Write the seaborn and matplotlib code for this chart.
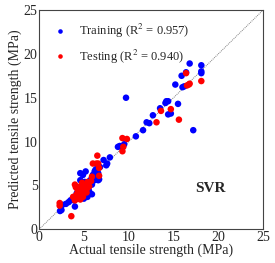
import numpy as np
import pandas as pd
import matplotlib
matplotlib.use("Agg")
import matplotlib.pyplot as plt
import seaborn as sns

# training set: actual vs predicted (MPa)
train_actual = [2.34, 2.5, 2.45, 2.6, 3.3, 3.5, 4.0, 4.0, 4.6, 4.6, 4.9, 5.0, 4.9, 5.4,
                5.7, 6.1, 6.2, 6.6, 6.6, 6.8, 7.2, 7.5, 7.6, 7.9, 8.8, 9.0, 9.5, 9.7,
                10.8, 11.6, 12.0, 12.3, 12.7, 13.5, 14.1, 14.2, 14.4, 14.4, 14.7, 15.5,
                15.2, 15.9, 16.0, 16.2, 16.4, 16.8, 18.1, 18.1, 18.1, 17.2,
                3.75, 4.2, 4.8, 5.1, 5.4, 5.6, 5.9, 6.2, 6.4, 6.5, 5.2, 5.9,
                3.0, 3.9, 4.4, 5.5, 6.0, 6.7, 6.3]
train_pred = [2.09, 2.2, 2.6, 2.8, 3.1, 3.3, 3.7, 2.6, 5.6, 6.4, 6.2, 3.5, 4.9, 4.5,
              5.6, 6.0, 6.6, 6.4, 5.6, 7.1, 7.9, 7.3, 7.5, 8.2, 9.4, 9.5, 9.7, 15.0,
              10.6, 11.3, 12.2, 12.1, 13.0, 13.8, 14.4, 14.6, 14.6, 13.1, 13.2, 14.3,
              16.5, 17.5, 16.2, 16.3, 17.9, 18.9, 18.7, 18.0, 17.8, 11.3,
              3.5, 4.1, 5.1, 5.4, 3.7, 4.3, 5.1, 5.6, 6.0, 7.0, 6.6, 4.0,
              2.9, 3.3, 4.2, 4.6, 6.2, 5.7, 6.8]

# testing set
test_actual = [2.3, 2.3, 3.6, 4.0, 3.8, 4.0, 4.3, 4.5, 4.6, 4.8, 4.9, 5.1, 5.4, 5.6,
               5.4, 5.9, 6.0, 6.4, 6.5, 6.6, 6.7, 6.7, 9.3, 9.4, 9.3, 9.8, 13.1, 13.6,
               14.7, 15.6, 16.4, 16.5, 16.7, 16.8, 18.1, 4.2, 4.6, 4.9, 5.3,
               4.2, 4.4, 4.7, 5.0, 5.2, 4.5, 5.5, 5.8, 4.1, 4.8]
test_pred = [3.0, 2.7, 1.5, 5.1, 3.7, 3.3, 4.5, 4.3, 4.9, 3.9, 4.7, 4.2, 4.7, 4.9,
             5.4, 6.0, 7.5, 7.5, 8.4, 7.5, 7.0, 6.1, 8.9, 9.4, 10.4, 10.3, 12.2, 13.5,
             13.7, 12.5, 17.8, 16.4, 16.5, 16.6, 16.9, 3.5, 3.4, 3.7, 4.2,
             4.0, 4.6, 4.4, 5.0, 4.4, 3.8, 5.2, 5.5, 4.8, 5.3]

df = pd.concat([
    pd.DataFrame({"actual": train_actual, "pred": train_pred, "set": "Training (R$^2$ = 0.957)"}),
    pd.DataFrame({"actual": test_actual, "pred": test_pred, "set": "Testing (R$^2$ = 0.940)"}),
])

sns.set_style("white")
plt.rcParams['font.family'] = ['Liberation Serif', 'DejaVu Serif']
plt.rcParams['mathtext.fontset'] = 'stix'

fig = plt.figure(figsize=(2.75, 2.63), dpi=100)
ax = fig.add_axes([0.142, 0.128, 0.815, 0.834])

ax.plot([0, 25], [0, 25], ls=(0, (1, 1)), color='gray', lw=0.7, zorder=1)
sns.scatterplot(data=df, x="actual", y="pred", hue="set",
                palette=["#0000ff", "#ff0000"], s=22, linewidth=0, ax=ax, zorder=2)

ax.set_xlim(0, 25)
ax.set_ylim(0, 25)
ax.set_xticks([0, 5, 10, 15, 20, 25])
ax.set_yticks([0, 5, 10, 15, 20, 25])
ax.tick_params(length=0, pad=1, labelsize=10)
for sp in ax.spines.values():
    sp.set_color('#444444')
    sp.set_linewidth(0.8)
ax.set_xlabel("Actual tensile strength (MPa)", fontsize=10, labelpad=0)
ax.set_ylabel("Predicted tensile strength (MPa)", fontsize=10, labelpad=1)

ax.legend(loc='upper left', frameon=False, fontsize=9, markerscale=0.7,
          handletextpad=0.9, handlelength=1.2, borderaxespad=0.3, labelspacing=0.6,
          bbox_to_anchor=(0.02, 0.985))
ax.text(19.1, 4.6, "SVR", fontsize=11, fontweight='bold', ha='center', va='center')

fig.savefig("out.png", dpi=100)
